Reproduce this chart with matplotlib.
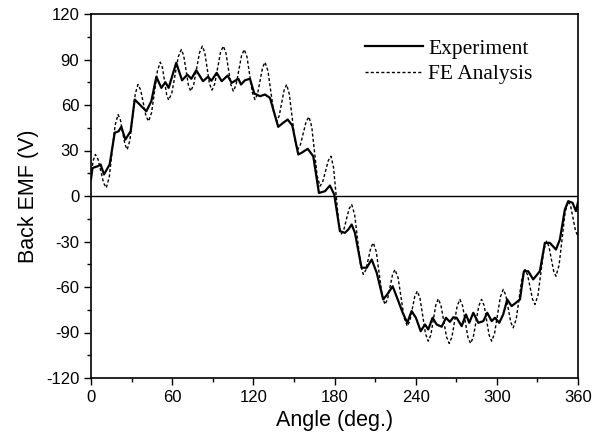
import matplotlib
matplotlib.use("Agg")
import matplotlib.pyplot as plt
from matplotlib.ticker import MultipleLocator

plt.rcParams["axes.unicode_minus"] = False

# Experiment (measured back EMF), angle in deg, value in V
exp_angle = [0, 1.0, 1.5, 5.2, 7.1, 9.6, 13.8, 17.5, 20.4, 22.4, 25.4, 29.3, 32.3, 36.0,
             40.9, 44.6, 48.3, 52.0, 55.0, 57.4, 63.0, 67.3, 71.2, 74.2, 77.8, 82.8,
             86.5, 89.0, 92.9, 96.6, 101.0, 104.0, 108.9, 110.9, 113.8, 117.5, 120.7,
             124.9, 128.6, 132.3, 138.4, 142.1, 145.4, 148.8, 153.2, 155.7, 160.2,
             164.3, 168.5, 173.0, 176.6, 179.8, 184.0, 187.7, 190.2, 192.7, 195.1,
             200.0, 203.8, 207.5, 211.2, 216.0, 219.0, 223.0, 227.2, 230.4, 233.8,
             237.0, 240.2, 243.7, 246.9, 249.3, 252.5, 255.5, 259.2, 262.4, 265.3,
             267.8, 270.3, 274.0, 277.2, 279.6, 282.6, 286.3, 290.0, 292.9, 296.2,
             298.6, 301.8, 304.7, 307.7, 310.9, 314.1, 317.1, 320.0, 323.2, 326.9,
             331.8, 335.5, 339.2, 343.7, 346.6, 350.3, 352.8, 356.0, 358.5, 360.0]
exp_emf = [11, 18, 18.6, 19.7, 20.8, 14.2, 20.8, 41.7, 42.7, 45.6, 37.2, 42.7, 63.6, 60.3,
           55.9, 62.5, 78.6, 71.3, 75.0, 71.3, 87.8, 76.3, 80.0, 77.3, 82.9, 75.7,
           78.6, 76.0, 81.2, 75.7, 79.4, 74.6, 77.3, 73.5, 76.3, 77.3, 67.6,
           65.8, 66.9, 64.7, 45.6, 48.3, 50.4, 46.5, 27.4, 28.5, 31.1,
           26.2, 2.0, 3.2, 6.9, 1.0, -23.2, -24.3, -22.1, -18.8, -24.3,
           -47.3, -47.3, -41.9, -50.6, -68.2, -64.9, -59.5, -69.3, -77.0, -83.6,
           -75.9, -80.3, -89.1, -84.7, -88.0, -80.3, -84.7, -86.2, -80.3, -83.0,
           -80.0, -80.3, -85.8, -78.1, -83.6, -77.0, -83.6, -82.5, -77.0, -82.5,
           -80.3, -83.6, -78.1, -68.2, -72.6, -70.4, -68.2, -49.6, -49.6, -55.0,
           -49.6, -30.9, -30.9, -35.3, -28.7, -8.9, -3.4, -4.5, -10.0, -4.0]

# FE analysis, angle in deg, value in V
fe_angle = [0, 1.5, 3.2, 5.2, 9.3, 11.3, 13.5, 17.8, 20.0, 21.7, 25.1, 26.8, 28.8, 32.7,
            34.7, 36.7, 40.6, 42.6, 44.8, 49.1, 51.2, 52.8, 55.9, 57.4, 59.8, 64.5,
            66.8, 68.5, 72.0, 73.7, 75.9, 80.2, 82.3, 84.1, 87.6, 89.4, 91.5, 95.7,
            97.8, 99.7, 103.4, 105.2, 107.2, 111.3, 113.3, 115.3, 119.2, 121.2,
            123.1, 126.8, 128.6, 130.8, 135.1, 137.2, 139.1, 142.8, 144.6, 146.6,
            150.7, 152.7, 154.8, 159.0, 161.1, 163.2, 167.2, 169.3, 171.3, 175.4,
            177.4, 179.3, 183.1, 185.0, 186.9, 190.8, 192.7, 194.9, 199.2, 201.3,
            203.2, 206.9, 208.7, 210.9, 215.2, 217.3, 219.2, 222.9, 224.7, 227.0,
            231.5, 233.8, 235.7, 239.4, 241.2, 243.2, 247.3, 249.3, 251.2, 254.9,
            256.7, 258.7, 262.8, 264.8, 266.8, 270.7, 272.7, 274.7, 278.6, 280.6,
            282.6, 286.7, 288.7, 290.6, 294.3, 296.2, 298.3, 302.6, 304.7, 306.6,
            310.3, 312.1, 314.3, 318.6, 320.8, 322.7, 326.4, 328.2, 330.4, 334.7,
            336.8, 338.5, 342.0, 343.7, 346.0, 350.5, 352.8, 354.6, 358.2, 360.0]
fe_emf = [13, 23, 27.4, 24.2, 8.6, 5.4, 12.5, 46.6, 53.7, 50.3, 34.0, 30.6, 36.9, 67.2,
          73.5, 70.0, 52.8, 49.3, 55.0, 82.5, 88.2, 84.6, 66.9, 63.2, 68.1, 91.7,
          96.6, 92.6, 73.1, 69.1, 73.4, 94.5, 98.8, 94.6, 74.0, 69.8, 74.0, 94.6,
          98.8, 94.5, 73.4, 69.1, 73.1, 92.6, 96.6, 91.8, 68.4, 63.6,
          67.2, 84.6, 88.2, 82.5, 55.0, 49.3, 52.8, 70.0, 73.5, 67.2,
          36.9, 30.6, 33.8, 49.0, 52.2, 45.5, 13.2, 6.5, 9.4, 23.3,
          26.2, 18.7, -17.5, -25.0, -22.2, -8.4, -5.6, -12.3, -45.0, -51.7,
          -48.7, -33.9, -30.9, -36.8, -65.6, -71.5, -68.1, -51.9, -48.5, -53.9,
          -80.4, -85.8, -82.4, -66.1, -62.7, -67.5, -90.9, -95.7, -91.6, -71.9,
          -67.8, -72.1, -92.9, -97.2, -93.0, -72.4, -68.2, -72.4, -93.0, -97.2,
          -93.0, -72.4, -68.2, -72.2, -91.7, -95.7, -90.7, -66.6, -61.6, -65.3,
          -83.2, -86.9, -81.3, -54.1, -48.5, -51.9, -68.1, -71.5, -65.4, -35.9,
          -29.8, -33.2, -49.5, -52.9, -45.7, -10.6, -3.4, -6.8, -23.1, -26.5]

x_ticks = [0, 60, 120, 180, 240, 300, 360]
y_ticks = [-120, -90, -60, -30, 0, 30, 60, 90, 120]

sans = ["Liberation Sans", "DejaVu Sans"]
serif = ["Liberation Serif", "DejaVu Serif"]

fig = plt.figure(figsize=(6.09, 4.46), dpi=100)
ax = fig.add_axes([91 / 609, 1 - 378 / 446, (578 - 91) / 609, (378 - 14) / 446])

ax.axhline(0, color="black", lw=1.0, zorder=1)
ax.plot(fe_angle, fe_emf, color="black", lw=1.0, linestyle=(0, (2.2, 1.6)),
        label="FE Analysis", zorder=2)
ax.plot(exp_angle, exp_emf, color="black", lw=1.6, label="Experiment", zorder=3)

ax.set_xlim(0, 360)
ax.set_ylim(-120, 120)
ax.set_xticks(x_ticks)
ax.set_yticks(y_ticks)
ax.xaxis.set_minor_locator(MultipleLocator(30))
ax.yaxis.set_minor_locator(MultipleLocator(15))
ax.tick_params(which="major", direction="out", length=5, width=1, labelsize=12,
               top=False, right=False)
ax.tick_params(which="minor", direction="out", length=3, width=1, top=False, right=False)
for lab in ax.get_xticklabels() + ax.get_yticklabels():
    lab.set_family(sans)
for sp in ax.spines.values():
    sp.set_linewidth(1.2)

ax.set_xlabel("Angle (deg.)", fontsize=15.5, family=sans, labelpad=4)
ax.set_ylabel("Back EMF (V)", fontsize=15.5, family=sans, labelpad=5)

handles, labels = ax.get_legend_handles_labels()
order = [1, 0]
ax.legend([handles[i] for i in order], [labels[i] for i in order],
          loc="upper left", bbox_to_anchor=(0.5626, 0.932), frameon=False,
          borderpad=0, borderaxespad=0, handlelength=2.7, handletextpad=0.25,
          labelspacing=0.26, prop={"family": serif, "size": 15.5})

fig.savefig("out.png", dpi=100)
